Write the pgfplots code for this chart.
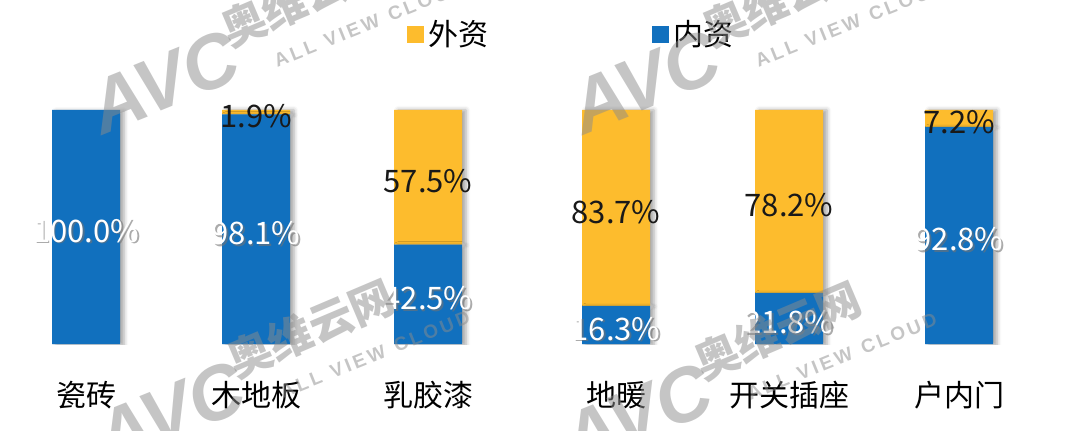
\documentclass[border=0pt]{standalone}
\usepackage{pgfplots}
\pgfplotsset{compat=1.18}
\usepackage{fontspec}
\setmainfont{Noto Sans CJK SC}
\newfontfamily\logofont{Liberation Sans}
\usetikzlibrary{shadows.blur}
\definecolor{neizi}{RGB}{17,112,190}
\definecolor{waizi}{RGB}{253,188,45}
\definecolor{wmgray}{RGB}{140,140,140}

% shared frame: x in pixels of the canvas, y in percent
\pgfplotsset{
  frame/.style={
    scale only axis, width=540pt, height=172pt,
    xmin=0, xmax=1080, ymin=0, ymax=147,
  },
  pctlabel/.style={draw=none, mark=none, nodes near coords,
    point meta=explicit symbolic, nodes near coords align=center},
}

\begin{document}
\begin{tikzpicture}
\begin{axis}[frame,
  ybar stacked, bar width=34pt,
  axis line style={draw=none},
  major tick length=0pt,
  ytick=\empty,
  xtick={86,256,428,616,789,959},
  xticklabels={瓷砖,木地板,乳胶漆,地暖,开关插座,户内门},
  xticklabel style={font=\fontsize{15}{18}\selectfont, anchor=base, yshift=-31pt},
  legend columns=2,
  legend image code/.code={\fill[#1] (0pt,-4.25pt) rectangle (8.5pt,4.25pt);},
  legend style={draw=none, fill=none, at={(0.530,0.901)}, anchor=center,
    font=\fontsize{15}{18}\selectfont,
    /tikz/every even column/.append style={column sep=80pt}},
]
\addlegendimage{fill=waizi, draw=none}
\addlegendimage{fill=neizi, draw=none}
% 内资
\addplot[fill=neizi, draw=none,
  blur shadow={shadow xshift=2pt, shadow yshift=-0.6pt, shadow blur radius=2pt, shadow opacity=35}]
  coordinates {(86,100.0) (256,98.1) (428,42.5) (616,16.3) (789,21.8) (959,92.8)};
% 外资
\addplot[fill=waizi, draw=none,
  blur shadow={shadow xshift=2pt, shadow yshift=0pt, shadow blur radius=2pt, shadow opacity=35}]
  coordinates {(86,0) (256,1.9) (428,57.5) (616,83.7) (789,78.2) (959,7.2)};
\legend{外资,内资}
\coordinate (tl) at (rel axis cs:0,1);
\end{axis}

% value labels, centred in each segment
\begin{axis}[frame, hide axis]
% soft shadow under the white labels
\addplot[pctlabel,
  every node near coord/.append style={font=\fontsize{15.5}{18}\selectfont,
    text=black!55, opacity=0.6, xshift=0.8pt, yshift=-2.8pt}]
  coordinates {(86,50.0)[100.0\%] (256,49.05)[98.1\%] (428,21.25)[42.5\%]
               (616,8.15)[16.3\%] (789,10.9)[21.8\%] (959,46.4)[92.8\%]};
\addplot[pctlabel,
  every node near coord/.append style={font=\fontsize{15.5}{18}\selectfont, text=white, yshift=-2pt}]
  coordinates {(86,50.0)[100.0\%] (256,49.05)[98.1\%] (428,21.25)[42.5\%]
               (616,8.15)[16.3\%] (789,10.9)[21.8\%] (959,46.4)[92.8\%]};
\addplot[pctlabel,
  every node near coord/.append style={font=\fontsize{15.5}{18}\selectfont, text=black!90, yshift=-2pt}]
  coordinates {(256,99.05)[1.9\%] (428,71.25)[57.5\%] (616,58.15)[83.7\%]
               (789,60.9)[78.2\%] (959,96.4)[7.2\%]};
\end{axis}

% watermark
\begin{scope}[shift={(tl)}, x=0.5pt, y=-0.5pt, opacity=0.5, text=wmgray]
  \foreach \ox/\oy in {232/52, 713/52, 238/383, 705/385} {
    \node[rotate=23, anchor=south west, inner sep=0,
      font=\fontsize{22}{22}\selectfont\bfseries] at (\ox,\oy) {奥维云网};
    \node[rotate=22, anchor=north west, inner sep=0,
      font=\logofont\bfseries\fontsize{9.5}{10}\selectfont] at (\ox+40,\oy+3) {A\,L\,L\ \ V\,I\,E\,W\ \ C\,L\,O\,U\,D};
    \node[rotate=22, anchor=center, inner sep=0,
      font=\logofont\bfseries\itshape\fontsize{38}{38}\selectfont] at (\ox-68,\oy+30) {AVC};
  }
\end{scope}

\pgfresetboundingbox
\path (tl) rectangle ++(540pt,-215pt);
\end{tikzpicture}
\end{document}
